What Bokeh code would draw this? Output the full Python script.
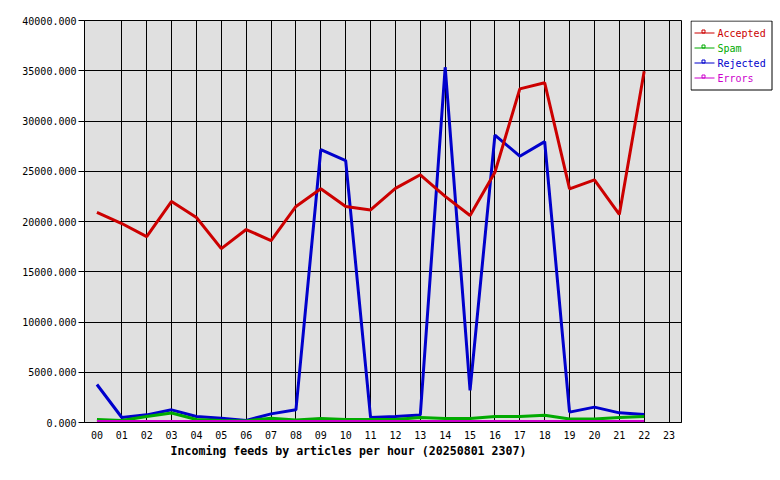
from bokeh.plotting import figure
from bokeh.models import (FactorRange, Range1d, ColumnDataSource, PrintfTickFormatter,
                          FixedTicker, Title)
from bokeh.layouts import row
from bokeh.core.properties import value
from bokeh.embed import file_html
from bokeh.resources import INLINE

hours = ["%02d" % h for h in range(24)]
data_hours = hours[:23]

accepted = [20900, 19800, 18500, 22000, 20400, 17300, 19200, 18100, 21500, 23250, 21500, 21150,
            23300, 24650, 22500, 20600, 24900, 33200, 33800, 23250, 24150, 20700, 34950]
spam = [300, 200, 600, 950, 300, 200, 150, 430, 250, 400, 300, 300,
        300, 500, 400, 400, 600, 600, 730, 350, 350, 500, 600]
rejected = [3780, 500, 760, 1260, 600, 430, 200, 860, 1260, 27150, 26050, 500,
            600, 750, 35350, 3200, 28600, 26500, 27950, 1030, 1530, 960, 800]
errors = [100] * 23

names = ["Accepted", "Spam", "Rejected", "Errors"]
colors = ["#cc0000", "#00aa00", "#0000cc", "#cc00cc"]
values = [accepted, spam, rejected, errors]

MONO = "DejaVu Sans Mono"

p = figure(width=690, height=480, x_range=FactorRange(factors=hours), y_range=Range1d(0, 40000),
           output_backend="svg", toolbar_location=None, title=None,
           min_border_left=84, min_border_right=9, min_border_top=20, min_border_bottom=58)

p.border_fill_color = "white"
p.background_fill_color = "#e0e0e0"
p.outline_line_color = "black"
p.outline_line_width = 1

p.xgrid.grid_line_color = "black"
p.ygrid.grid_line_color = "black"
p.xgrid.grid_line_width = 1
p.ygrid.grid_line_width = 1

p.yaxis.ticker = FixedTicker(ticks=list(range(0, 40001, 5000)))
p.yaxis.formatter = PrintfTickFormatter(format="%.3f")
p.yaxis.major_tick_out = 6
p.yaxis.major_tick_in = 0
p.yaxis.minor_tick_line_color = None
p.yaxis.major_label_standoff = 2
p.yaxis.axis_line_color = "black"
p.xaxis.major_tick_line_color = None
p.xaxis.major_tick_out = 0
p.xaxis.major_tick_in = 0
p.xaxis.major_label_standoff = 8
p.xaxis.axis_line_color = "black"
for ax in (p.xaxis, p.yaxis):
    ax.major_label_text_font = MONO
    ax.major_label_text_font_size = "10px"
    ax.major_label_text_color = "black"

# draw order: rejected, spam, accepted, errors
for idx in [2, 1, 0, 3]:
    src = ColumnDataSource(dict(x=data_hours, y=values[idx]))
    p.line("x", "y", source=src, line_color=colors[idx], line_width=3)

title = Title(text="Incoming feeds by articles per hour (20250801 2307)", align="left",
              offset=86, text_font=MONO, text_font_size="11.6px", text_font_style="bold",
              text_color="black", standoff=0)
p.add_layout(title, "below")

# legend panel (separate small figure so each label keeps its series colour);
# its frame is aligned with the main frame vertically, so use page-pixel coordinates
q = figure(width=90, height=480, x_range=Range1d(690, 780), y_range=Range1d(422, 20),
           output_backend="svg", toolbar_location=None, title=None, min_border=0,
           x_axis_location=None, y_axis_location=None)
q.grid.visible = False
q.outline_line_color = None
q.background_fill_color = "white"
q.border_fill_color = "white"

q.quad(left=[690.5], right=[771.5], top=[20.5], bottom=[89.5], fill_color="white",
       line_color="black", line_width=1)
rows_y = [32.5 + 15 * i for i in range(len(names))]
leg = ColumnDataSource(dict(x0=[694] * 4, x1=[714] * 4, xm=[703] * 4, y=rows_y,
                            ym=[y - 1.5 for y in rows_y], tx=[717] * 4, name=names, color=colors))
q.segment(x0="x0", y0="y", x1="x1", y1="y", source=leg, line_color="color", line_width=1)
q.scatter(x="xm", y="ym", source=leg, marker="square", size=3, line_color="color",
          fill_color=None, line_width=1)
q.text(x="tx", y="y", text="name", source=leg, text_color="color", text_font=value(MONO),
       text_font_size="10px", text_baseline="middle", text_align="left")

layout = row(p, q, spacing=0)
open("out.html", "w").write(file_html(layout, INLINE))
